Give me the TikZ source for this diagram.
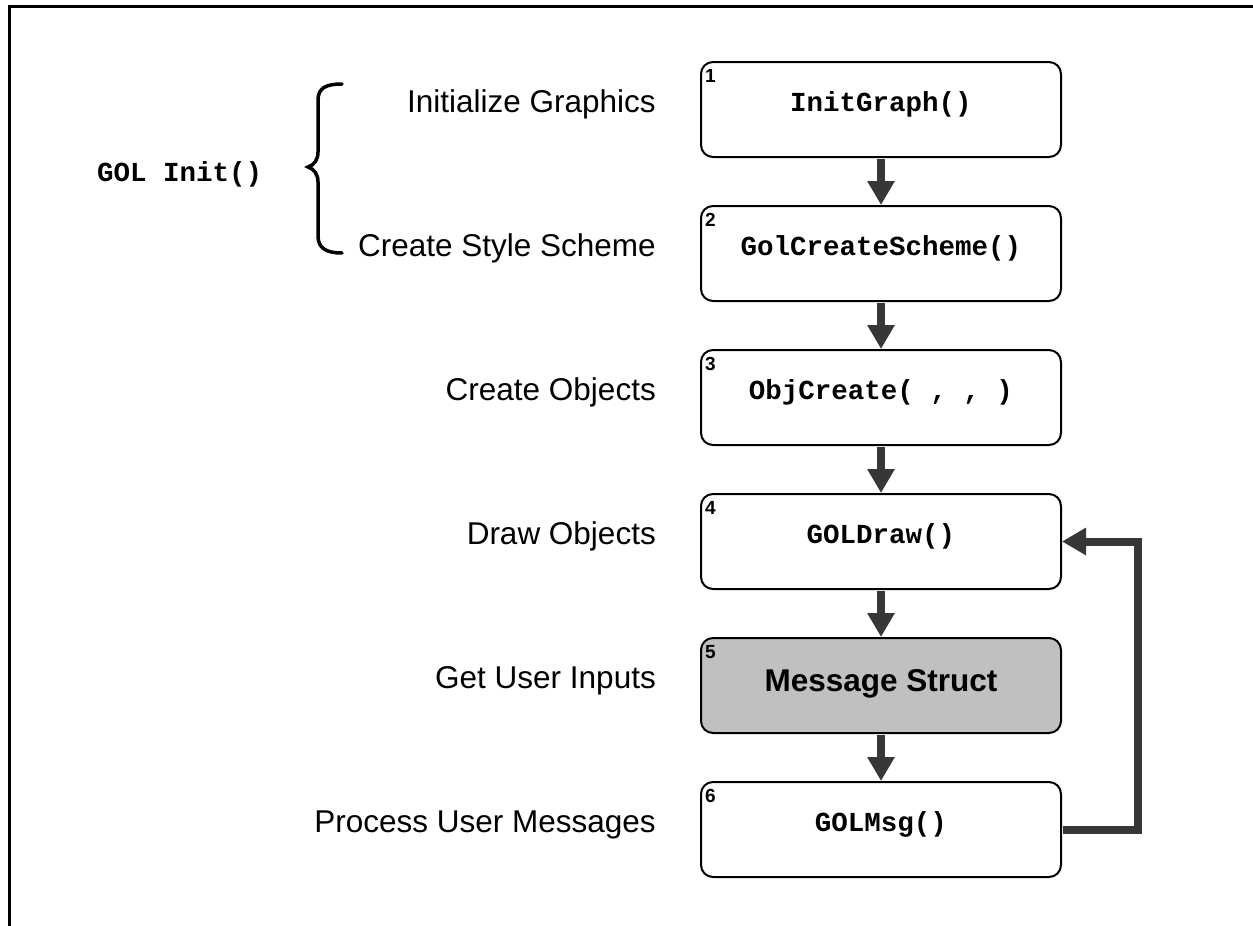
\documentclass[tikz,border=0pt]{standalone}
\usepackage{fontspec}
\setmainfont{Liberation Sans}
\setmonofont{Liberation Mono}
\usetikzlibrary{arrows.meta}
\definecolor{arrowgray}{RGB}{54,56,56}
\definecolor{boxgray}{RGB}{192,192,192}
\begin{document}
\begin{tikzpicture}[x=1pt,y=-1pt,
  stepbox/.style={draw=black, line width=2pt, rounded corners=12pt, minimum width=360pt, minimum height=95pt, inner sep=0pt, fill=white},
  code/.style={font=\fontsize{27.5}{30}\selectfont\ttfamily\bfseries, anchor=base, inner sep=0pt},
  numlbl/.style={font=\fontsize{19}{21}\selectfont\bfseries, anchor=base west, inner sep=0pt},
  lbl/.style={font=\fontsize{31.5}{36}\selectfont, anchor=base east, inner sep=0pt},
  flow/.style={draw=arrowgray, line width=8pt, -{Triangle[length=24pt,width=26pt]}},
  bracepath/.style={draw=black, line width=3.5pt, line cap=round},
]
\useasboundingbox (0,0) rectangle (1253,926);
% frame
\draw[line width=3pt] (9.5,930) -- (9.5,6.5) -- (1260,6.5);

% boxes
\node[stepbox] (b1) at (881,109.5) {};
\node[stepbox] (b2) at (881,253.5) {};
\node[stepbox] (b3) at (881,397.5) {};
\node[stepbox] (b4) at (881,541.5) {};
\node[stepbox, fill=boxgray] (b5) at (881,685.5) {};
\node[stepbox] (b6) at (881,829.5) {};

% box texts
\node[code] (t1) at ([yshift=-50pt]b1.north) {InitGraph()};
\node[code] (t2) at ([yshift=-50pt]b2.north) {GolCreateScheme()};
\node[code] (t3) at ([yshift=-50pt]b3.north) {ObjCreate( , , )};
\node[code] (t4) at ([yshift=-50pt]b4.north) {GOLDraw()};
\node[font=\fontsize{31.5}{36}\selectfont\bfseries, anchor=base, inner sep=0pt] (t5) at ([yshift=-54pt]b5.north) {Message Struct};
\node[code] (t6) at ([yshift=-50pt]b6.north) {GOLMsg()};

% numbers
\node[numlbl] (n1) at ([xshift=5pt,yshift=-21pt]b1.north west) {1};
\node[numlbl] (n2) at ([xshift=5pt,yshift=-21pt]b2.north west) {2};
\node[numlbl] (n3) at ([xshift=5pt,yshift=-21pt]b3.north west) {3};
\node[numlbl] (n4) at ([xshift=5pt,yshift=-21pt]b4.north west) {4};
\node[numlbl] (n5) at ([xshift=5pt,yshift=-21pt]b5.north west) {5};
\node[numlbl] (n6) at ([xshift=5pt,yshift=-21pt]b6.north west) {6};

% left labels
\node[lbl] (l1) at ([xshift=-44pt,yshift=-51pt]b1.north west) {Initialize Graphics};
\node[lbl] (l2) at ([xshift=-44pt,yshift=-51pt]b2.north west) {Create Style Scheme};
\node[lbl] (l3) at ([xshift=-44pt,yshift=-51pt]b3.north west) {Create Objects};
\node[lbl] (l4) at ([xshift=-44pt,yshift=-51pt]b4.north west) {Draw Objects};
\node[lbl] (l5) at ([xshift=-44pt,yshift=-51pt]b5.north west) {Get User Inputs};
\node[lbl] (l6) at ([xshift=-44pt,yshift=-51pt]b6.north west) {Process User Messages};

% GOL Init
\node[code, anchor=base west] (gi) at (97,181) {GOL Init()};

% brace
\draw[bracepath] (342,84) .. controls (326,84) and (318,88) .. (318,100) -- (318,152)
  .. controls (318,160) and (314,165) .. (308,167)
  .. controls (314,169) and (318,174) .. (318,182) -- (318,236)
  .. controls (318,248) and (326,253) .. (342,253);

% arrows
\draw[flow, shorten <=1pt] (b1.south) -- (b2.north);
\draw[flow, shorten <=1pt] (b2.south) -- (b3.north);
\draw[flow, shorten <=1pt] (b3.south) -- (b4.north);
\draw[flow, shorten <=1pt] (b4.south) -- (b5.north);
\draw[flow, shorten <=1pt] (b5.south) -- (b6.north);
\draw[flow, shorten <=1pt] (b6.east) -- ++(76,0) |- (b4.east);
\end{tikzpicture}
\end{document}
